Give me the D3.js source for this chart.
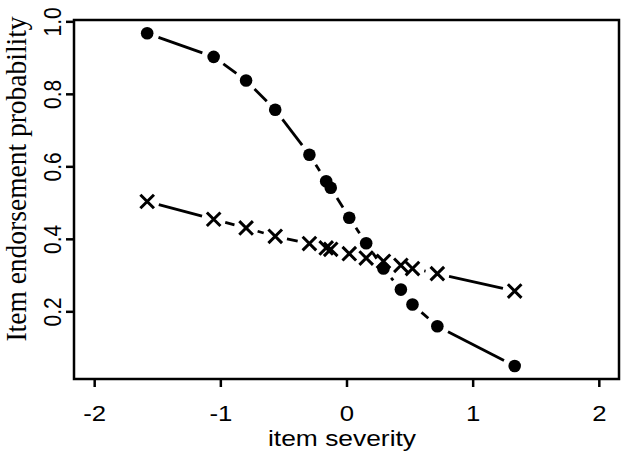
<!DOCTYPE html>
<html>
<head>
<meta charset="utf-8">
<script src="https://cdn.jsdelivr.net/npm/d3@7"></script>
<style>
  body { margin: 0; background: #fff; }
  svg { display: block; }
</style>
</head>
<body>
<svg id="chart"></svg>
<script>
const W = 624
const H = 454
const BOX = {left: 74, right: 619, top: 20, bottom: 379}
// the reference is slightly stretched sideways, text included
const STRETCH = 1.17

// item severities (shared by both series)
const severity = [-1.58, -1.053, -0.796, -0.565, -0.294, -0.161, -0.125, 0.022, 0.156, 0.293, 0.431, 0.523, 0.72, 1.333]
const probDots = [0.967, 0.902, 0.837, 0.756, 0.632, 0.559, 0.541, 0.458, 0.388, 0.318, 0.26, 0.219, 0.159, 0.049]
const probCross = [0.503, 0.454, 0.43, 0.407, 0.387, 0.375, 0.371, 0.359, 0.347, 0.338, 0.327, 0.318, 0.304, 0.256]
const xTicks = [-2, -1, 0, 1, 2]
const yTicks = [0.2, 0.4, 0.6, 0.8, 1.0]

const SANS = "'Liberation Sans', Arial, sans-serif"

const svg = d3.select("#chart").attr("width", W).attr("height", H)

const x = d3.scaleLinear().domain([-2.16, 2.16]).range([BOX.left, BOX.right])
const y = d3.scaleLinear().domain([0.0133, 1.0037]).range([BOX.bottom, BOX.top])

// x axis
const xAxis = svg
  .append("g")
  .attr("transform", `translate(0,${BOX.bottom})`)
  .call(d3.axisBottom(x).tickValues(xTicks).tickFormat((d) => String(d)).tickSize(8).tickPadding(18))
xAxis.select(".domain").remove()
xAxis.selectAll("line").attr("stroke", "#000").attr("stroke-width", 2.5)
xAxis
  .selectAll("text")
  .attr("font-family", SANS)
  .attr("font-size", 22)
  .attr("fill", "#000")
  .attr("transform", `scale(${STRETCH},1)`)

// y axis, labels rotated like R's default
const yAxis = svg
  .append("g")
  .attr("transform", `translate(${BOX.left},0)`)
  .call(d3.axisLeft(y).tickValues(yTicks).tickFormat(d3.format(".1f")).tickSize(8))
yAxis.select(".domain").remove()
yAxis.selectAll("line").attr("stroke", "#000").attr("stroke-width", 2.5)
yAxis
  .selectAll("text")
  .attr("font-family", SANS)
  .attr("font-size", 21)
  .attr("fill", "#000")
  .attr("x", null)
  .attr("dy", null)
  .attr("text-anchor", "middle")
  .attr("transform", `translate(-13,0) scale(1.13,1) rotate(-90)`)

// box
svg
  .append("rect")
  .attr("x", BOX.left)
  .attr("y", BOX.top)
  .attr("width", BOX.right - BOX.left)
  .attr("height", BOX.bottom - BOX.top)
  .attr("fill", "none")
  .attr("stroke", "#000")
  .attr("stroke-width", 2.5)

// axis titles
svg
  .append("text")
  .attr("transform", `translate(342,446) scale(1.2,1)`)
  .attr("text-anchor", "middle")
  .attr("font-family", SANS)
  .attr("font-size", 22)
  .text("item severity")

svg
  .append("text")
  .attr("transform", "translate(26,179) scale(1.1,1) rotate(-90)")
  .attr("text-anchor", "middle")
  .attr("font-family", "'Liberation Serif', 'Times New Roman', serif")
  .attr("font-size", 27.5)
  .text("Item endorsement probability")

// R type="b": segments with a gap around each point
function drawGapLine(xs, ys, gap) {
  const pts = xs.map((d, i) => [x(d), y(ys[i])])
  const g = svg.append("g").attr("stroke", "#000").attr("stroke-width", 2.8)
  for (let i = 0; i < pts.length - 1; i++) {
    const [x0, y0] = pts[i]
    const [x1, y1] = pts[i + 1]
    const len = Math.hypot(x1 - x0, y1 - y0)
    if (len <= 2 * gap) continue
    const ux = (x1 - x0) / len
    const uy = (y1 - y0) / len
    g.append("line")
      .attr("x1", x0 + ux * gap)
      .attr("y1", y0 + uy * gap)
      .attr("x2", x1 - ux * gap)
      .attr("y2", y1 - uy * gap)
  }
}

drawGapLine(severity, probDots, 12)
drawGapLine(severity, probCross, 12)

svg
  .append("g")
  .selectAll("circle")
  .data(severity)
  .enter()
  .append("circle")
  .attr("cx", (d) => x(d))
  .attr("cy", (d, i) => y(probDots[i]))
  .attr("r", 6.3)
  .attr("fill", "#000")

const cs = 6.8
svg
  .append("g")
  .selectAll("path")
  .data(severity)
  .enter()
  .append("path")
  .attr("d", (d, i) => {
    const cx = x(d)
    const cy = y(probCross[i])
    return `M${cx - cs},${cy - cs}L${cx + cs},${cy + cs}M${cx - cs},${cy + cs}L${cx + cs},${cy - cs}`
  })
  .attr("stroke", "#000")
  .attr("stroke-width", 3)
  .attr("fill", "none")
</script>
</body>
</html>
